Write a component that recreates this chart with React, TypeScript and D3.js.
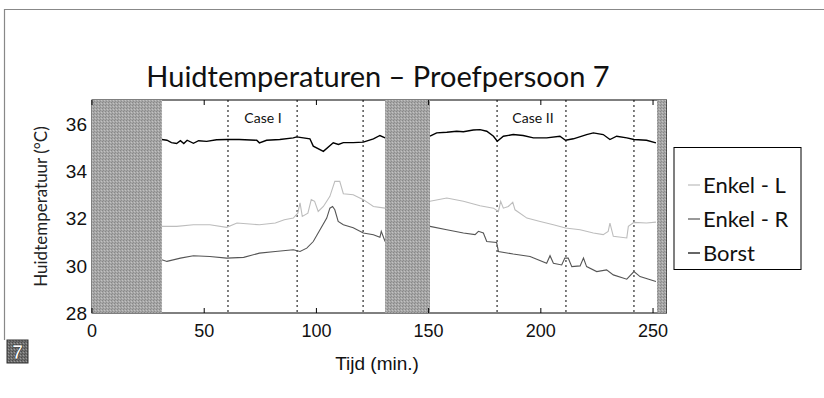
import React from "react";
import * as d3 from "d3";

const W = 824;
const H = 398;

const xTicks = [0, 50, 100, 150, 200, 250];
const yTicks = [28, 30, 32, 34, 36];
const shadedBands: [number, number][] = [[0, 31.2], [130.6, 150.6], [251.8, 256]];
const dottedLines = [60.6, 91.4, 120.8, 180.5, 211.2, 241.5];
const caseLabels: [string, number][] = [["Case I", 76.2], ["Case II", 196.5]];

const borstCase1: [number, number][] = [[31.1,35.33],[33.4,35.3],[35.4,35.2],[37.7,35.16],[39.4,35.28],[40.9,35.16],[42.4,35.3],[45.2,35.17],[47.5,35.28],[51.1,35.25],[55.5,35.32],[60.0,35.33],[65.6,35.33],[73.4,35.3],[74.6,35.19],[77.8,35.3],[83.7,35.33],[89.7,35.4],[91.2,35.44],[97.1,35.36],[98.6,35.05],[103.1,34.83],[107.5,35.19],[109.8,35.12],[112.0,35.2],[116.4,35.2],[120.9,35.22],[125.4,35.36],[128.3,35.5],[130.6,35.4]];
const enkelLCase1: [number, number][] = [[31.1,31.66],[37.7,31.66],[45.2,31.73],[52.5,31.73],[60.0,31.62],[64.6,31.8],[74.6,31.73],[81.7,31.8],[85.7,31.94],[89.7,32.01],[91.7,32.22],[92.7,32.65],[93.7,32.08],[96.2,32.22],[97.7,32.79],[99.2,32.72],[100.8,32.29],[103.1,32.5],[104.6,32.72],[106.0,32.93],[108.2,33.56],[110.4,33.56],[112.0,33.04],[116.4,33.0],[120.9,32.79],[125.4,32.5],[130.6,32.43]];
const enkelRCase1: [number, number][] = [[31.1,30.25],[33.4,30.18],[39.4,30.32],[45.2,30.42],[52.5,30.39],[60.0,30.32],[67.6,30.35],[74.6,30.53],[81.7,30.6],[89.7,30.67],[92.7,30.6],[95.7,30.74],[98.6,31.02],[101.6,31.52],[104.6,32.01],[106.0,32.43],[107.2,32.5],[108.2,32.36],[109.7,31.87],[112.0,31.73],[116.4,31.6],[120.9,31.38],[125.4,31.31],[128.3,31.2],[128.9,31.45],[130.6,31.02]];

const borstCase2: [number, number][] = [[150.6,35.47],[153.6,35.61],[158.1,35.64],[162.5,35.68],[165.5,35.66],[169.9,35.73],[172.9,35.75],[175.9,35.68],[178.9,35.47],[180.6,35.26],[183.3,35.47],[187.7,35.54],[192.1,35.5],[196.7,35.4],[202.6,35.4],[208.5,35.47],[211.0,35.3],[214.5,35.36],[220.4,35.54],[223.4,35.61],[227.8,35.54],[230.8,35.33],[233.8,35.47],[238.3,35.4],[241.5,35.33],[247.1,35.3],[251.3,35.19]];
const enkelLCase2: [number, number][] = [[150.6,32.72],[158.1,32.86],[165.5,32.72],[172.9,32.53],[178.9,32.43],[181.1,32.29],[182.1,32.72],[183.3,32.43],[185.5,32.5],[187.5,32.68],[188.5,32.36],[193.8,32.01],[199.7,31.87],[205.6,31.73],[211.0,31.59],[217.5,31.52],[223.4,31.38],[227.8,31.31],[230.0,31.45],[230.8,31.8],[232.3,31.24],[238.3,31.17],[239.0,31.66],[241.5,31.83],[247.1,31.8],[251.3,31.84]];
const enkelRCase2: [number, number][] = [[150.6,31.66],[158.1,31.52],[165.5,31.38],[170.7,31.31],[172.2,31.45],[174.4,31.38],[175.9,31.02],[180.3,30.98],[181.1,30.6],[187.7,30.49],[195.2,30.39],[202.6,30.1],[204.1,30.42],[205.6,30.1],[209.3,30.03],[210.7,30.32],[212.2,30.32],[213.8,29.96],[217.5,29.99],[219.0,30.32],[220.4,29.96],[224.9,29.75],[229.3,29.82],[232.3,29.61],[238.3,29.43],[241.5,29.75],[244.2,29.54],[251.3,29.33]];

const seriesNames = ["Enkel - L", "Enkel - R", "Borst"];
const seriesColors = ["#bdbdbd", "#555555", "#000000"];
const seriesData = [
  [enkelLCase1, enkelLCase2],
  [enkelRCase1, enkelRCase2],
  [borstCase1, borstCase2],
];

const x = d3.scaleLinear().domain([0, 256]).range([92, 666.5]);
const y = d3.scaleLinear().domain([28, 37]).range([313, 100]);
const line = d3.line<[number, number]>().x(d => x(d[0])).y(d => y(d[1]));

const calibri = "Lato, 'Noto Sans', sans-serif";
const arial = "'Liberation Sans', Arial, sans-serif";

export default function App() {
  const [x0, x1] = x.range();
  const [yb, yt] = y.range();
  return (
    <svg width={W} height={H} style={{ position: "absolute", left: 0, top: 0, background: "#fff" }}>
      <defs>
        <pattern id="dither" width="3" height="3" patternUnits="userSpaceOnUse">
          <rect width="3" height="3" fill="#a6a6a6" />
          <rect x="0" y="0" width="1" height="1" fill="#878787" />
          <rect x="2" y="1" width="1" height="1" fill="#c2c2c2" />
          <rect x="1" y="2" width="1" height="1" fill="#8e8e8e" />
        </pattern>
        <pattern id="ditherDark" width="3" height="3" patternUnits="userSpaceOnUse">
          <rect width="3" height="3" fill="#6e6e6e" />
          <rect x="0" y="0" width="1" height="1" fill="#4a4a4a" />
          <rect x="2" y="1" width="1" height="1" fill="#9a9a9a" />
          <rect x="1" y="2" width="1" height="1" fill="#555" />
        </pattern>
      </defs>
      <rect width={W} height={H} fill="#fff" />
      <line x1={4} y1={9.5} x2={W} y2={9.5} stroke="#888" strokeWidth={1.2} />
      <line x1={4.5} y1={9} x2={4.5} y2={340} stroke="#888" strokeWidth={1.2} />

      <text x={378} y={87} textAnchor="middle" fontFamily={calibri} fontSize={29} fill="#111">
        Huidtemperaturen – Proefpersoon 7
      </text>

      <rect x={x0} y={yt} width={x1 - x0} height={yb - yt} fill="#fff" stroke="#000" strokeWidth={1} />

      {dottedLines.map(t => (
        <line key={t} x1={x(t)} x2={x(t)} y1={yt} y2={yb} stroke="#000" strokeWidth={1} strokeDasharray="2,3" />
      ))}

      {seriesData.map((segs, i) =>
        segs.map((seg, j) => (
          <path key={`${i}-${j}`} d={line(seg) || ""} fill="none" stroke={seriesColors[i]} strokeWidth={i === 2 ? 1.4 : 1.1} />
        ))
      )}

      {shadedBands.map(([a, b], i) => (
        <rect key={i} x={x(a)} y={yt} width={x(b) - x(a)} height={yb - yt} fill="url(#dither)" />
      ))}

      {xTicks.map(t => (
        <g key={t}>
          <line x1={x(t)} x2={x(t)} y1={yb} y2={yb - 5} stroke="#000" />
          <line x1={x(t)} x2={x(t)} y1={yt} y2={yt + 5} stroke="#000" />
          <text x={x(t)} y={yb + 24} textAnchor="middle" fontFamily={arial} fontSize={18} fill="#111">{t}</text>
        </g>
      ))}
      {yTicks.map(v => (
        <text key={v} x={87} y={y(v) + 7} textAnchor="end" fontFamily={arial} fontSize={19} fill="#111">{v}</text>
      ))}

      {caseLabels.map(([s, t]) => (
        <text key={s} x={x(t)} y={123} textAnchor="middle" fontFamily={calibri} fontSize={14} fill="#111">{s}</text>
      ))}

      <text transform={`translate(47,${(yt + yb) / 2}) rotate(-90)`} textAnchor="middle" fontFamily={calibri} fontSize={17} fill="#222">
        Huidtemperatuur (°C)
      </text>
      <text x={377} y={370} textAnchor="middle" fontFamily={arial} fontSize={19} fill="#111">Tijd (min.)</text>

      <rect x={674} y={147.5} width={127} height={122} fill="#fff" stroke="#000" strokeWidth={1} />
      {seriesNames.map((n, i) => (
        <g key={n} transform={`translate(0,${185 + i * 34})`}>
          <line x1={688} x2={700} y1={0} y2={0} stroke={seriesColors[i]} strokeWidth={1.2} />
          <text x={703} y={7.5} fontFamily={calibri} fontSize={22} fill="#111">{n}</text>
        </g>
      ))}

      <rect x={7} y={340} width={21} height={23} fill="url(#ditherDark)" stroke="#333" />
      <text x={17.5} y={359} textAnchor="middle" fontFamily={arial} fontWeight="bold" fontSize={20} fill="#fff" stroke="#222" strokeWidth={0.6}>7</text>
    </svg>
  );
}
